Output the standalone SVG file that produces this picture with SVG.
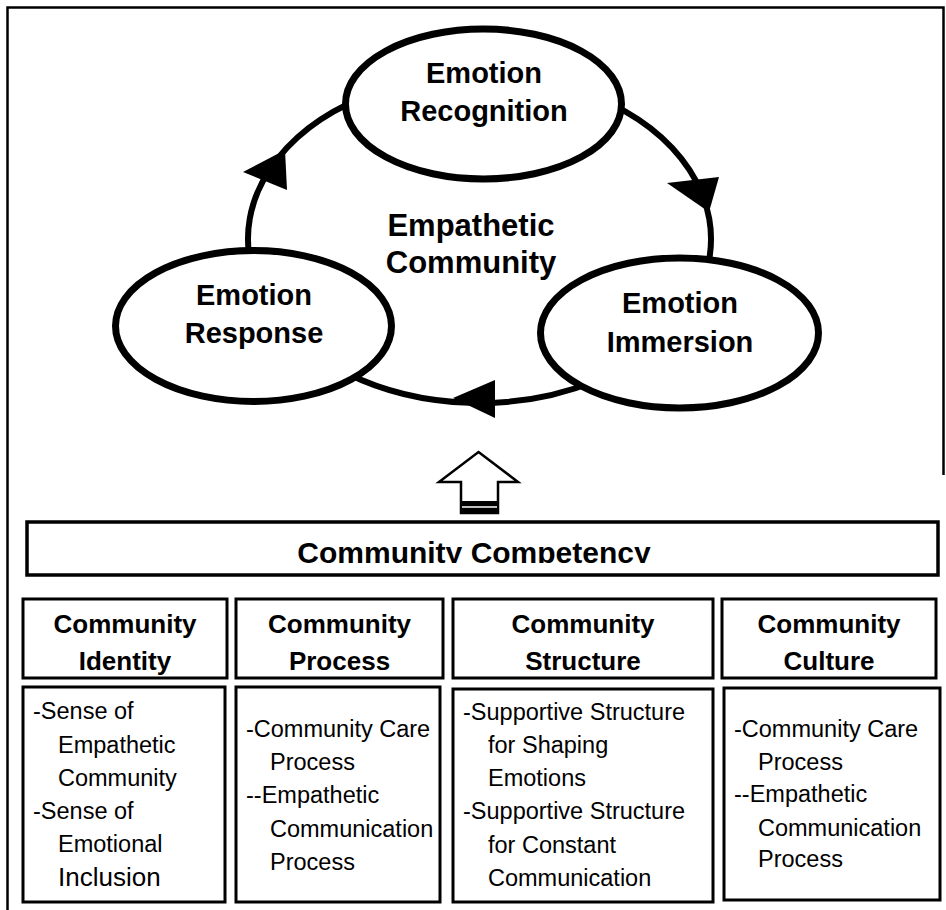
<svg xmlns="http://www.w3.org/2000/svg" width="946" height="910" viewBox="0 0 946 910">
<style>
text{font-family:"Liberation Sans",Arial,sans-serif;fill:#000}
.lbl{font-size:29px;font-weight:bold;text-anchor:middle}
.ctr{font-size:31px;font-weight:bold;text-anchor:middle}
.hd{font-size:26px;font-weight:bold;text-anchor:middle}
.bd{font-size:23.5px}
.node{fill:#fff;stroke:#000;stroke-width:7}
.arc{fill:none;stroke:#000;stroke-width:6}
.head{fill:#000;stroke:none}
.box{fill:#fff;stroke:#000;stroke-width:3}
</style>
<defs>
<clipPath id="compClip"><rect x="20" y="524" width="920" height="39"/></clipPath>
</defs>
<rect width="946" height="910" fill="#fff"/>
<g id="frame" fill="none" stroke="#000" stroke-width="2.5">
<polyline points="7.5,910 7.5,7.5 943.5,7.5 943.5,475"/>
</g>
<g id="connectors">
<path class="arc" d="M 595.25 97 A 231.5 164 0 0 1 707.5 267.5"/>
<path class="arc" d="M 595.25 381 A 231.5 164 0 0 1 346.7 373.3"/>
<path class="arc" d="M 251.5 267.5 A 231.5 164 0 0 1 363.75 97"/>
<polygon class="head" points="667,183 719,177 709,212"/>
<polygon class="head" points="453,398 495,380 495,418"/>
<polygon class="head" points="243,172 287,190 285,150"/>
</g>
<g id="center-label">
<text class="ctr" x="471" y="236">Empathetic</text>
<text class="ctr" x="471" y="273">Community</text>
</g>
<g id="node-recognition">
<ellipse class="node" cx="483.5" cy="104" rx="138" ry="75"/>
<text class="lbl" x="484" y="83">Emotion</text>
<text class="lbl" x="484" y="121">Recognition</text>
</g>
<g id="node-response">
<ellipse class="node" cx="253.5" cy="326" rx="138" ry="75.5"/>
<text class="lbl" x="254" y="305">Emotion</text>
<text class="lbl" x="254" y="343">Response</text>
</g>
<g id="node-immersion">
<ellipse class="node" cx="679.5" cy="333" rx="139" ry="75"/>
<text class="lbl" x="680" y="313">Emotion</text>
<text class="lbl" x="680" y="352">Immersion</text>
</g>
<g id="up-arrow">
<polygon points="478.5,452 518,482 498,482 498,513 461,513 461,482 439,482" fill="#fff" stroke="#000" stroke-width="2.5" stroke-linejoin="miter"/>
<rect x="461" y="501" width="37" height="12" fill="#000"/>
<line x1="462" y1="507" x2="497" y2="507" stroke="#fff" stroke-width="1.5"/>
</g>
<g id="competency">
<rect x="27" y="522" width="911" height="53" fill="#fff" stroke="#000" stroke-width="3.5"/>
<text class="hd" x="474" y="563" style="font-size:30px" clip-path="url(#compClip)">Community Competency</text>
</g>
<g id="identity">
<rect class="box" x="23" y="599" width="204" height="79"/>
<text class="hd" x="125" y="633">Community</text>
<text class="hd" x="125" y="670">Identity</text>
<rect class="box" x="23" y="687" width="202" height="215"/>
<text class="bd" x="33" y="719">-Sense of</text>
<text class="bd" x="58" y="753">Empathetic</text>
<text class="bd" x="58" y="786">Community</text>
<text class="bd" x="33" y="819">-Sense of</text>
<text class="bd" x="58" y="852">Emotional</text>
<text class="bd" x="58" y="886" style="font-size:26px">Inclusion</text>
</g>
<g id="process">
<rect class="box" x="236" y="599" width="207" height="79"/>
<text class="hd" x="339.5" y="633">Community</text>
<text class="hd" x="339.5" y="670">Process</text>
<rect class="box" x="236" y="687" width="204" height="215"/>
<text class="bd" x="246" y="737">-Community Care</text>
<text class="bd" x="270" y="770">Process</text>
<text class="bd" x="246" y="803">--Empathetic</text>
<text class="bd" x="270" y="837">Communication</text>
<text class="bd" x="270" y="870">Process</text>
</g>
<g id="structure">
<rect class="box" x="453" y="599" width="260" height="79"/>
<text class="hd" x="583" y="633">Community</text>
<text class="hd" x="583" y="670">Structure</text>
<rect class="box" x="453" y="689" width="260" height="213"/>
<text class="bd" x="463" y="720">-Supportive Structure</text>
<text class="bd" x="488" y="753">for Shaping</text>
<text class="bd" x="488" y="786">Emotions</text>
<text class="bd" x="463" y="819">-Supportive Structure</text>
<text class="bd" x="488" y="853">for Constant</text>
<text class="bd" x="488" y="886">Communication</text>
</g>
<g id="culture">
<rect class="box" x="722" y="599" width="214" height="79"/>
<text class="hd" x="829" y="633">Community</text>
<text class="hd" x="829" y="670">Culture</text>
<rect class="box" x="724" y="688" width="216" height="212"/>
<text class="bd" x="734" y="737">-Community Care</text>
<text class="bd" x="758" y="770">Process</text>
<text class="bd" x="734" y="802">--Empathetic</text>
<text class="bd" x="758" y="836">Communication</text>
<text class="bd" x="758" y="867">Process</text>
</g>
</svg>
